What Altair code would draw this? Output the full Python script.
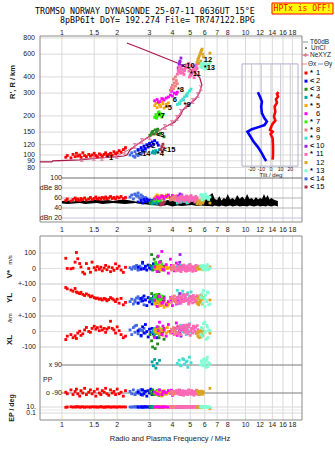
import altair as alt
import pandas as pd

# ---------------- axis ticks / labels ----------------
FREQ_TICKS = [1, 1.5, 2, 3, 4, 5, 6, 7, 8, 10, 12, 14, 16, 18]
FREQ_LABELS = ["1", "1.5", "2", "3", "4", "5", "6", "7", "8", "10", "12", "14", "16", "18"]
HEIGHT_TICKS = [800, 600, 400, 300, 200, 150, 120, 100, 90, 80]
DBE_TICKS = [100, 80, 60, 40, 20]
DBE_LABELS = ["100", "dBe 80", "60", "40", "dBn 20"]
TILT_TICKS = [-20, -10, 0, 10, 20]

ECHO_NAMES = ["*1", "<2", "<3", "*4", "*5", "6", "*7", "*8", "*9", "<10", "*11", "12", "*13", "<14", "<15"]
ECHO_PREFIX = ["*", "<", "<", "*", "*", "", "*", "*", "*", "<", "*", "", "*", "<", "<"]
ECHO_NUMBER = ["1", "2", "3", "4", "5", "6", "7", "8", "9", "10", "11", "12", "13", "14", "15"]
ECHO_COLORS = ["#ff0000", "#0000ff", "#1e8c1e", "#00a3a3", "#ffa500", "#ff00ff", "#33ee00", "#f08080",
               "#40e0d0", "#9a20f0", "#ff69b4", "#daa520", "#80ffd4", "#4169e1", "#b03050"]
# label anchor (frequency MHz, height km) for each echo tag
LABEL_F = [1.74, 2.9, 3.25, 3.29, 3.63, 4.02, 3.33, 4.23, 4.6, 4.5, 4.97, 5.92, 5.92, 2.59, 3.54]
LABEL_H = [94, 118, 143, 102, 230, 265, 200, 320, 243, 482, 420, 541, 469, 102, 109]

# ---------------- echo series: freq, height, amplitude, V*, YL, XL, PP, EP ----------------
E1_F = [1.05, 1.07, 1.12, 1.15, 1.18, 1.2, 1.22, 1.25, 1.27, 1.3, 1.33, 1.36, 1.4, 1.43, 1.46, 1.5, 1.53,
        1.56, 1.6, 1.63, 1.66, 1.7, 1.73, 1.76, 1.8, 1.84, 1.88, 1.92, 1.96, 2.0, 2.05, 2.1, 2.16, 2.22]
E1_H = [96, 99, 95, 101, 97, 103, 98, 100, 96, 104, 99, 97, 101, 98, 100, 103, 99, 97, 102, 100, 98, 101,
        104, 99, 101, 103, 100, 106, 102, 104, 108, 105, 110, 114]
E1_A = [55, 58, 54, 57, 60, 56, 58, 55, 59, 57, 60, 56, 58, 61, 57, 59, 62, 58, 60, 57, 61, 59, 62, 58, 60,
        63, 59, 61, 58, 62, 60, 63, 59, 61]
E1_V = [66, 0, -2, 2, 41, 103, 63, 32, 10, -24, -35, 32, 0, -24, 41, 5, -10, 12, -5, 8, -15, 3, 20, -8, 10,
        -20, 5, -12, 30, 0, 15, -10, -25, 8]
E1_YL = [78, 70, 62, 55, 72, 50, 45, 40, 48, 35, 28, 38, 30, 20, 25, 15, 10, 12, 5, 8, 0, 10, 5, -5, 3, 15,
         8, 0, -10, 5, -20, 10, -30, -15]
E1_XL = [-52, -30, -20, -40, -28, -45, -10, 2, -25, -15, 10, 26, 0, -5, 20, 34, 15, 25, 5, 30, 10, 20, -5,
         15, 25, 66, 20, 10, -10, 30, 5, -20, -40, -30]
E1_PP = [-85, -95, -70, -100, -80, -65, -95, -110, -75, -90, -60, -100, -85, -70, -95, -80, -110, -65, -90,
         -100, -75, -85, -60, -95, -105, -70, -90, -80, -100, -65, -95, -85, -110, -75]
E1_EP = [8, 10, 12, 9, 11, 10, 13, 9, 10, 12, 8, 11, 10, 9, 12, 10, 11, 9, 10, 13, 10, 8, 11, 10, 12, 9, 10,
         11, 10, 9, 12, 10, 11, 10]

E2_F = [2.6, 2.7, 2.75, 2.8, 2.85, 2.9, 2.95, 3.0, 3.05, 3.1, 3.15, 3.2, 3.3, 3.35]
E2_H = [110, 114, 108, 117, 112, 120, 115, 123, 118, 126, 121, 129, 124, 119]
E2_A = [52, 55, 50, 57, 53, 58, 54, 56, 51, 55, 53, 57, 52, 54]
E2_V = [8, -5, 40, 0, 15, -10, 22, 5, -3, 12, 30, 0, -8, 6]
E2_YL = [-20, 10, -5, 25, 0, -35, 15, -12, 5, -25, 20, -8, 10, 0]
E2_XL = [5, -25, 30, -10, 45, 0, -35, 15, -5, 20, -15, 10, -40, 25]
E2_PP = [-85, -100, -70, -95, -80, -110, -75, -90, -65, -100, -85, -95, -78, -88]
E2_EP = [10, 11, 9, 10, 12, 10, 11, 9, 10, 10, 12, 9, 10, 11]

E3_F = [3.02, 3.08, 3.12, 3.18, 3.22, 3.28, 3.32, 3.38, 3.45, 3.6]
E3_H = [142, 148, 152, 145, 156, 150, 158, 144, 147, 138]
E3_A = [50, 54, 52, 56, 51, 55, 53, 57, 50, 52]
E3_V = [20, 90, -10, 60, 35, 5, 75, -20, 45, 10]
E3_YL = [10, 40, -5, 25, 30, 0, 15, 35, -10, 20]
E3_XL = [-20, -60, -100, -30, -110, -10, -80, -40, 0, -50]
E3_PP = [-80, -95, -70, -100, -85, -90, -75, -105, -88, -92]
E3_EP = [10, 11, 9, 10, 12, 10, 9, 11, 10, 10]

E4_F = [3.1, 3.15, 3.2, 3.25, 3.3, 3.4]
E4_H = [104, 107, 103, 108, 105, 110]
E4_A = [48, 52, 50, 55, 49, 53]
E4_V = [5, 15, -5, 25, 10, 0]
E4_YL = [10, -10, 20, 0, -15, 5]
E4_XL = [-5, 10, -15, 20, 0, -20]
E4_PP = [110, 85, 125, 70, 100, 120]
E4_EP = [10, 11, 10, 9, 10, 12]

E5_F = [3.2, 3.25, 3.3, 3.35, 3.4, 3.45, 3.5, 3.55, 3.6, 3.7, 3.75, 3.8]
E5_H = [240, 250, 232, 255, 244, 236, 258, 248, 230, 246, 238, 252]
E5_A = [60, 63, 66, 61, 64, 62, 65, 60, 63, 66, 61, 64]
E5_V = [5, -5, 10, 0, 15, -10, 8, 2, -8, 12, 0, 5]
E5_YL = [-20, -30, -10, -40, -25, -35, -15, -30, -45, -20, -38, -28]
E5_XL = [10, -5, 20, 0, -15, 15, 5, -25, 10, -10, 25, 0]
E5_PP = [-90, -85, -100, -80, -95, -88, -110, -92, -75, -98, -85, -90]
E5_EP = [10, 8, 11, 10, 9, 10, 12, 10, 8, 11, 10, 9]

E6_F = [3.2, 3.3, 3.4, 3.5, 3.6, 3.7, 3.8, 3.9, 4.0, 4.1, 4.2, 4.25, 3.35, 3.55, 3.95]
E6_H = [262, 268, 258, 272, 265, 275, 280, 290, 285, 300, 295, 305, 255, 270, 310]
E6_A = [58, 62, 60, 64, 59, 63, 66, 61, 65, 60, 62, 64, 59, 63, 61]
E6_V = [10, -20, 40, 110, -10, 25, -30, 60, 5, -15, 35, 0, 80, -5, 20]
E6_YL = [0, -40, 20, -20, 10, -30, -10, 15, -35, 5, -25, -5, 25, -15, 0]
E6_XL = [-40, 30, 60, -20, 10, -30, 45, 0, -10, 20, 55, -25, 5, 35, -5]
E6_PP = [-85, -95, -70, -100, -80, -88, -75, -92, -105, -82, -90, -78, -98, -86, -72]
E6_EP = [10, 11, 9, 10, 12, 10, 9, 11, 10, 10, 8, 10, 11, 9, 10]

E7_F = [3.2, 3.25, 3.3, 3.35, 3.4, 3.45, 3.5, 3.55, 3.38, 3.28]
E7_H = [195, 205, 198, 212, 202, 208, 196, 204, 215, 192]
E7_A = [55, 58, 60, 56, 62, 57, 59, 61, 55, 58]
E7_V = [10, 40, -5, 25, 0, 15, 30, -10, 5, 20]
E7_YL = [20, 5, 30, -10, 15, 0, 25, 10, -5, 35]
E7_XL = [0, 20, -10, 30, 10, -20, 15, 5, 25, -5]
E7_PP = [-85, -95, -78, -100, -90, -82, -105, -88, -70, -95]
E7_EP = [10, 11, 9, 10, 12, 10, 10, 11, 9, 10]

E8_F = [3.9, 3.95, 4.0, 4.05, 4.1, 4.15, 4.2, 4.25, 4.05, 4.15]
E8_H = [315, 330, 345, 325, 360, 340, 375, 355, 385, 400]
E8_A = [56, 60, 58, 62, 57, 64, 59, 61, 57, 60]
E8_V = [5, -10, 15, 0, -5, 10, -15, 8, 20, -3]
E8_YL = [10, -15, 20, -5, 25, 0, -20, 15, 5, -10]
E8_XL = [-10, 15, 0, 25, -20, 10, -5, 30, 5, -15]
E8_PP = [-90, -80, -100, -85, -95, -88, -75, -92, -98, -84]
E8_EP = [10, 11, 10, 9, 10, 12, 10, 11, 10, 9]

E9_F = [4.25, 4.35, 4.45, 4.55, 4.65, 4.75, 4.85, 4.95, 5.05, 4.4, 4.6, 4.8]
E9_H = [245, 252, 262, 270, 280, 290, 300, 312, 322, 248, 265, 285]
E9_A = [50, 54, 52, 57, 53, 55, 51, 56, 58, 52, 54, 50]
E9_V = [10, 0, 20, 5, 15, -5, 12, 25, 0, 8, 18, 3]
E9_YL = [60, 40, 20, 55, 30, 10, 45, 25, 50, 15, 35, 5]
E9_XL = [20, -10, 40, 0, 30, -20, 10, 50, -5, 25, 15, 35]
E9_PP = [100, 120, 85, 130, 95, 110, 75, 140, 105, 90, 125, 115]
E9_EP = [10, 11, 10, 9, 12, 10, 11, 10, 9, 10, 11, 10]

E10_F = [4.3, 4.35, 4.4, 4.45, 4.5, 4.38]
E10_H = [470, 500, 530, 560, 490, 520]
E10_A = [60, 64, 68, 62, 66, 63]
E10_V = [20, -10, 90, 10, 0, 40]
E10_YL = [15, -20, 40, 0, 10, -5]
E10_XL = [30, -10, 10, -30, 20, 0]
E10_PP = [-85, -95, -80, -100, -90, -75]
E10_EP = [10, 11, 10, 9, 10, 11]

E11_F = [4.25, 4.3, 4.35, 4.4, 4.45, 4.5, 4.55, 4.6, 4.65, 4.7, 4.75, 4.8, 4.85, 4.9, 4.95, 5.0, 5.05, 5.1,
         5.15, 5.2, 5.25, 5.3, 5.35, 5.4, 5.45, 5.5, 4.32, 4.48, 4.62, 4.78, 4.92, 5.08, 5.22, 5.38, 4.42, 4.68]
E11_H = [420, 450, 470, 480, 440, 460, 430, 455, 445, 470, 490, 480, 500, 510, 400, 415, 410, 425, 435, 460,
         395, 485, 450, 475, 465, 505, 438, 462, 418, 472, 444, 488, 452, 496, 428, 458]
E11_A = [55, 60, 52, 62, 58, 64, 56, 61, 53, 59, 63, 57, 60, 54, 62, 58, 65, 55, 61, 57, 59, 52, 63, 56, 60,
         54, 58, 62, 57, 64, 53, 60, 56, 61, 59, 55]
E11_V = [0, 15, -10, 10, -20, 5, 20, -5, 12, -15, 8, -8, 18, 2, -12, 25, -3, 10, -18, 6, -6, 14, -14, 4, 16,
         -2, 9, -9, 22, -16, 3, 11, -7, 19, -1, 7]
E11_YL = [10, -15, 25, 0, -20, 15, 30, -10, 5, 20, -5, 35, 0, -25, 12, -8, 22, 3, -18, 28, 8, -12, 18, -3, 26,
          -22, 14, -6, 32, 2, -16, 20, 6, -10, 16, -2]
E11_XL = [20, -10, 35, 5, -20, 30, 10, 40, -5, 25, 0, 15, -15, 30, 45, -25, 5, 20, -10, 35, 15, 0, 28, -8, 38,
          12, -18, 22, 8, 42, -2, 18, 32, -12, 26, 4]
E11_PP = [-80, -95, -70, -100, -85, -90, -75, -105, -88, -78, -95, -82, -100, -70, -92, -86, -98, -74, -90, -84,
          -104, -80, -94, -72, -88, -99, -76, -91, -83, -97, -73, -87, -101, -79, -93, -81]
E11_EP = [10, 11, 9, 10, 12, 10, 9, 11, 10, 12, 10, 11, 9, 10, 10, 12, 10, 9, 11, 10, 10, 11, 10, 9, 12, 10,
          11, 10, 9, 10, 12, 10, 11, 10, 9, 10]

E12_F = [5.45, 5.5, 5.55, 5.6, 5.65, 5.7, 5.75, 5.8, 5.85, 5.9, 5.6, 5.7, 6.4]
E12_H = [520, 545, 560, 580, 600, 620, 640, 655, 600, 570, 510, 530, 610]
E12_A = [48, 52, 50, 55, 49, 53, 51, 56, 50, 54, 52, 48, 50]
E12_V = [5, -5, 10, 0, 15, -3, 8, 2, -8, 12, 0, 5, 10]
E12_YL = [-20, 10, -30, 20, 0, -10, 25, -25, 5, 15, -15, 30, 0]
E12_XL = [-10, -30, 0, -40, -20, 5, -35, -15, -25, 0, -5, -20, -10]
E12_PP = [-75, -85, -95, -80, -100, -90, -78, -88, -98, -82, -92, -86, -60]
E12_EP = [10, 8, 9, 10, 11, 10, 9, 10, 8, 10, 11, 10, 3]

E13_F = [5.8, 5.85, 5.9, 5.95, 6.0, 6.05, 6.1, 6.2, 6.3, 5.7, 6.15, 6.25, 5.75, 6.4]
E13_H = [470, 500, 485, 520, 460, 510, 490, 475, 500, 480, 465, 495, 505, 515]
E13_A = [56, 62, 66, 58, 64, 68, 60, 63, 57, 65, 61, 59, 67, 62]
E13_V = [10, -5, 20, 0, 15, -10, 5, 25, -3, 12, 8, -8, 18, 2]
E13_YL = [40, -20, 60, 10, -40, 30, 0, 50, -30, 20, -10, 45, 15, -25]
E13_XL = [-30, 20, 50, -10, 60, 0, -50, 30, 10, -20, 40, -40, 25, 5]
E13_PP = [100, 120, 85, 130, 95, 110, 75, 140, 105, 90, 125, 80, 115, 98]
E13_EP = [10, 11, 10, 9, 12, 10, 11, 10, 9, 10, 11, 10, 12, 10]

E14_F = [2.35, 2.4, 2.45, 2.5, 2.55, 2.6, 2.65, 2.7, 2.75, 2.8, 2.85, 2.5, 2.6, 2.7]
E14_H = [100, 104, 98, 106, 101, 108, 103, 110, 105, 112, 107, 96, 99, 101]
E14_A = [62, 66, 58, 68, 64, 70, 60, 66, 63, 58, 61, 67, 64, 59]
E14_V = [5, -5, 10, 0, 20, -8, 15, 2, 30, -3, 8, 12, -10, 4]
E14_YL = [-10, 5, -25, 0, 12, -18, 8, -5, 15, -30, 2, -12, 20, -8]
E14_XL = [10, -20, 25, -5, 40, 0, 15, -30, 5, 20, -10, 35, -15, 8]
E14_PP = [-80, -95, -70, -100, -88, -75, -92, -68, -105, -85, -78, -98, -90, -72]
E14_EP = [10, 9, 11, 10, 12, 10, 9, 10, 11, 10, 10, 12, 9, 10]

E15_F = [3.45, 3.5, 3.55, 3.6, 3.52]
E15_H = [110, 116, 121, 113, 107]
E15_A = [46, 50, 48, 52, 47]
E15_V = [0, 10, -5, 15, 5]
E15_YL = [-10, 5, 15, -5, 0]
E15_XL = [10, -5, 0, 20, -10]
E15_PP = [-90, -80, -100, -85, -95]
E15_EP = [10, 10, 11, 9, 10]

# ---------------- noise amplitude trace (dBe panel) ----------------
NOISE_F = [1.0, 1.08, 1.16, 1.25, 1.34, 1.44, 1.55, 1.66, 1.78, 1.9, 2.05, 2.2, 2.36, 2.52, 2.7, 2.9,
           3.1, 3.3, 3.5, 3.75, 4.0, 4.25, 4.5, 4.8, 5.1, 5.4, 5.75, 6.1, 6.4, 6.6, 6.8, 7.0, 7.2, 7.4,
           7.6, 7.8, 8.0, 8.25, 8.5, 8.75, 9.0, 9.3, 9.6, 9.9, 10.2, 10.5, 10.8, 11.1, 11.4, 11.7, 12.0,
           12.3, 12.6, 12.9, 13.2, 13.5, 13.8, 14.1, 14.4, 14.7, 15.0]
NOISE_HI = [54, 55, 53, 56, 54, 55, 57, 55, 56, 54, 56, 57, 55, 53, 52, 54,
            52, 54, 50, 56, 54, 52, 54, 52, 55, 53, 56, 58,
            66, 70, 58, 56, 64, 55, 60, 58, 68, 57, 60, 56, 66, 58, 63, 57, 68, 58, 60, 56, 62, 57,
            60, 58, 68, 60, 66, 57, 60, 58, 56, 55, 54]
NOISE_LO = [49, 48, 49, 50, 48, 49, 50, 48, 49, 50, 49, 48, 49, 50, 48, 47,
            46, 45, 44, 46, 43, 45, 44, 45, 46, 44, 45, 44,
            44, 43, 45, 44, 43, 45, 44, 43, 44, 45, 43, 44, 45, 43, 44, 44, 43, 45, 44, 43, 44, 45,
            43, 44, 44, 43, 45, 44, 43, 44, 45, 44, 43]

# ---------------- model profile lines (main panel) ----------------
PROF_F = [0.76, 0.88, 0.893, 1.25, 1.61, 1.94, 2.18, 2.26, 2.35, 2.5, 2.9, 3.29, 3.64, 4.12, 4.39, 4.56,
          4.97, 5.36, 5.64, 5.78, 5.64, 5.36, 4.97, 4.39, 3.42, 2.66, 2.26]
PROF_H = [88.3, 88.3, 89.9, 91.5, 94.8, 96.5, 98.2, 100, 109.3, 117.3, 135.3, 150.4, 164.4, 179.7, 200, 222,
          247.5, 270.4, 306, 346.7, 392.8, 429.3, 461, 503.8, 580.7, 669.4, 731.6]
NE_F = [1.285, 1.493, 1.651, 1.993, 2.203, 2.497, 2.726, 3.013, 3.29, 3.637, 3.97, 4.23, 4.44, 4.73, 5.16,
        5.5, 5.71]
NE_H = [93.1, 94.8, 94.8, 98.2, 105.5, 117.3, 128.2, 137.6, 150.4, 164.4, 176.4, 192.9, 214.7, 239.2, 260.8,
        290, 328.8]

# ---------------- tilt inset ----------------
TILTY_H = [305, 290, 279, 258, 236, 210, 192, 181, 170, 164, 158, 151, 140, 127, 115, 103, 94, 90]
TILTY_T = [-13.5, -12.2, -11.1, -9.4, -10.1, -9.4, -6.7, -4.2, -6.7, -12.9, -19.8, -24.4, -21.6, -18.1,
           -13.5, -9.4, -6.7, -4.9]
TILTX_H = [305, 296, 282, 269, 253, 236, 216, 198, 184, 174, 165, 156, 151, 145, 135, 116, 100, 92]
TILTX_T = [7.9, 6.2, 7.3, 5.2, 6.2, 3.8, 4.5, 3.1, 4.5, 1.7, 0.3, -1.0, 1.7, -0.4, 1.7, 2.1, 2.1, 1.7]

TITLE_1 = "TROMSO NORWAY   DYNASONDE 25-07-11 0636UT 15°E"
TITLE_2 = "8pBP6It DoY= 192.274 File= TR747122.BPG"

# ---------------- scales ----------------
PW, PH = 262, 384
FX = alt.Scale(type="log", domain=[0.76, 20.3], range=[0, PW], nice=False)
UPY = alt.Scale(domain=[0, 1], range=[186, 0], nice=False, zero=False)
LOWY = alt.Scale(domain=[0, 1], range=[384, 200], nice=False, zero=False)
HY = alt.Scale(type="log", domain=[66.4, 828], range=[142, 0], nice=False)
DBY = alt.Scale(domain=[12, 100], range=[186, 142], nice=False, zero=False)
VY = alt.Scale(domain=[-100, 100], range=[248, 217], nice=False, zero=False)
YLY = alt.Scale(domain=[-100, 100], range=[280, 248], nice=False, zero=False)
XLY = alt.Scale(domain=[-100, 100], range=[311, 280], nice=False, zero=False)
PPY = alt.Scale(domain=[-90, 90], range=[357, 329], nice=False, zero=False)
EPY = alt.Scale(type="log", domain=[0.1, 10], range=[377, 371], nice=False)
TX = alt.Scale(domain=[-30, 28], range=[202, 258], nice=False, zero=False)

GRID = "#dadada"
FRAME = "#8a8a8a"
TXT = "#202020"
FONT = "Liberation Sans"
MONO = "DejaVu Sans Mono"


def X(field, scale=FX):
    return alt.X(field, type="quantitative", scale=scale, axis=None)


def Y(field, scale):
    return alt.Y(field, type="quantitative", scale=scale, axis=None)


def series_rows(name, F, H, A, V, YL, XL, PP, EP):
    n = len(F)
    for s in (H, A, V, YL, XL, PP, EP):
        assert len(s) == n, name
    return [dict(echo=name, f=F[i], h=H[i], a=A[i], v=V[i], yl=YL[i], xl=XL[i], pp=PP[i], ep=EP[i])
            for i in range(n)]


SERIES = [
    ("*1", E1_F, E1_H, E1_A, E1_V, E1_YL, E1_XL, E1_PP, E1_EP),
    ("<14", E14_F, E14_H, E14_A, E14_V, E14_YL, E14_XL, E14_PP, E14_EP),
    ("<2", E2_F, E2_H, E2_A, E2_V, E2_YL, E2_XL, E2_PP, E2_EP),
    ("<3", E3_F, E3_H, E3_A, E3_V, E3_YL, E3_XL, E3_PP, E3_EP),
    ("*4", E4_F, E4_H, E4_A, E4_V, E4_YL, E4_XL, E4_PP, E4_EP),
    ("<15", E15_F, E15_H, E15_A, E15_V, E15_YL, E15_XL, E15_PP, E15_EP),
    ("*7", E7_F, E7_H, E7_A, E7_V, E7_YL, E7_XL, E7_PP, E7_EP),
    ("*5", E5_F, E5_H, E5_A, E5_V, E5_YL, E5_XL, E5_PP, E5_EP),
    ("6", E6_F, E6_H, E6_A, E6_V, E6_YL, E6_XL, E6_PP, E6_EP),
    ("*8", E8_F, E8_H, E8_A, E8_V, E8_YL, E8_XL, E8_PP, E8_EP),
    ("*9", E9_F, E9_H, E9_A, E9_V, E9_YL, E9_XL, E9_PP, E9_EP),
    ("<10", E10_F, E10_H, E10_A, E10_V, E10_YL, E10_XL, E10_PP, E10_EP),
    ("*11", E11_F, E11_H, E11_A, E11_V, E11_YL, E11_XL, E11_PP, E11_EP),
    ("12", E12_F, E12_H, E12_A, E12_V, E12_YL, E12_XL, E12_PP, E12_EP),
    ("*13", E13_F, E13_H, E13_A, E13_V, E13_YL, E13_XL, E13_PP, E13_EP),
]
rows = []
for s in SERIES:
    rows += series_rows(*s)
echo_df = pd.DataFrame(rows)
COLOR = alt.Color("echo:N", scale=alt.Scale(domain=ECHO_NAMES, range=ECHO_COLORS), legend=None)

layers = []

# ---------- grids & frames ----------
vgrid = pd.DataFrame({"f": FREQ_TICKS, "lo": 0.0, "hi": 1.0})
layers.append(alt.Chart(vgrid).mark_rule(color=GRID).encode(x=X("f"), y=Y("lo", UPY), y2="hi"))
layers.append(alt.Chart(vgrid).mark_rule(color=GRID).encode(x=X("f"), y=Y("lo", LOWY), y2="hi"))

hgrid = pd.DataFrame({"h": HEIGHT_TICKS, "f0": 0.76, "f1": 20.3})
layers.append(alt.Chart(hgrid).mark_rule(color=GRID).encode(x=X("f0"), x2="f1", y=Y("h", HY)))

dbe_lines = pd.DataFrame({"db": DBE_TICKS, "f0": 1.0, "f1": 20.3,
                          "c": ["#6e6e6e", "#cfcfcf", "#b4b4b4", "#b4b4b4", "#c4c4e6"]})
layers.append(alt.Chart(dbe_lines).mark_rule().encode(
    x=X("f0"), x2="f1", y=Y("db", DBY), color=alt.Color("c:N", scale=None)))

for sc, vals, cols in [
    (VY, [100, 0, -100], ["#e0e0e0", "#e0e0e0", "#c8c8c8"]),
    (YLY, [0, -100], ["#e0e0e0", "#c8c8c8"]),
    (XLY, [0, -100], ["#e0e0e0", "#d0d0d0"]),
    (EPY, [10, 1, 0.1], ["#d8d8d8", "#e6e6e6", "#d8d8d8"]),
]:
    d = pd.DataFrame({"y": vals, "f0": 0.76, "f1": 20.3, "c": cols})
    layers.append(alt.Chart(d).mark_rule().encode(
        x=X("f0"), x2="f1", y=Y("y", sc), color=alt.Color("c:N", scale=None)))
pp_lines = pd.DataFrame({"y": [90, -90], "f0": 1.0, "f1": 20.3})
layers.append(alt.Chart(pp_lines).mark_rule(color="#7a7a7a").encode(x=X("f0"), x2="f1", y=Y("y", PPY)))

frames = pd.DataFrame({"f0": [0.76], "f1": [20.3], "lo": [0.0], "hi": [1.0]})
layers.append(alt.Chart(frames).mark_rect(fillOpacity=0, stroke=FRAME, strokeWidth=1).encode(
    x=X("f0"), x2="f1", y=Y("lo", UPY), y2="hi"))
layers.append(alt.Chart(frames).mark_rect(fillOpacity=0, stroke=FRAME, strokeWidth=1).encode(
    x=X("f0"), x2="f1", y=Y("lo", LOWY), y2="hi"))

# ---------- tilt inset ----------
inset = pd.DataFrame({"t0": [-30], "t1": [28], "h0": [82], "h1": [504]})
layers.append(alt.Chart(inset).mark_rect(fillOpacity=0, stroke="#b0b0cc", strokeWidth=1).encode(
    x=X("t0", TX), x2="t1", y=Y("h0", HY), y2="h1"))
tg = pd.DataFrame({"t": TILT_TICKS, "h0": 82, "h1": 504})
layers.append(alt.Chart(tg).mark_rule(color="#c8c8d8").encode(x=X("t", TX), y=Y("h0", HY), y2="h1"))
ty = pd.DataFrame({"t": TILTY_T, "h": TILTY_H, "i": range(len(TILTY_H))})
tx = pd.DataFrame({"t": TILTX_T, "h": TILTX_H, "i": range(len(TILTX_H))})
layers.append(alt.Chart(ty).mark_line(color="#0000ff", strokeWidth=2.6).encode(
    x=X("t", TX), y=Y("h", HY), order="i:Q"))
layers.append(alt.Chart(tx).mark_line(color="#ff0000", strokeWidth=2.6).encode(
    x=X("t", TX), y=Y("h", HY), order="i:Q"))
tl = pd.DataFrame({"t": TILT_TICKS, "lab": [str(v) for v in TILT_TICKS]})
layers.append(alt.Chart(tl).mark_text(fontSize=5.2, font=FONT, color=TXT, baseline="middle").encode(
    x=X("t", TX), y=alt.value(133), text="lab:N"))
layers.append(alt.Chart(pd.DataFrame({"t": [0], "lab": ["Tilt / deg"]})).mark_text(
    fontSize=6, font=FONT, color=TXT, baseline="middle").encode(x=X("t", TX), y=alt.value(139), text="lab:N"))

# ---------- dBe noise trace ----------
noise = pd.DataFrame({"f": NOISE_F, "hi": NOISE_HI, "lo": NOISE_LO})
layers.append(alt.Chart(noise).mark_area(color="black", opacity=1).encode(
    x=X("f"), y=Y("hi", DBY), y2="lo"))

# ---------- profile lines ----------
prof = pd.DataFrame({"f": PROF_F, "h": PROF_H, "i": range(len(PROF_F))})
layers.append(alt.Chart(prof).mark_line(color="#a81848", strokeWidth=1.2).encode(
    x=X("f"), y=Y("h", HY), order="i:Q"))
ne = pd.DataFrame({"f": NE_F, "h": NE_H, "i": range(len(NE_F))})
layers.append(alt.Chart(ne).mark_line(color="#e0709a", strokeWidth=1).encode(
    x=X("f"), y=Y("h", HY), order="i:Q"))
IBEAM = "M-1,-1.3L1,-1.3M0,-1.3L0,1.3M-1,1.3L1,1.3"
layers.append(alt.Chart(ne).mark_point(shape=IBEAM, size=12, color="#e0709a", strokeWidth=1, filled=False,
                                       opacity=1).encode(x=X("f"), y=Y("h", HY)))

# ---------- echo points ----------
for field, sc in [("h", HY), ("a", DBY), ("v", VY), ("yl", YLY), ("xl", XLY), ("pp", PPY), ("ep", EPY)]:
    layers.append(alt.Chart(echo_df).mark_square(size=8, opacity=1).encode(
        x=X("f"), y=Y(field, sc), color=COLOR))

# echo tags
tags = pd.DataFrame({"name": ECHO_NAMES, "f": LABEL_F, "h": LABEL_H})
layers.append(alt.Chart(tags).mark_text(align="left", baseline="middle", fontSize=7.5, font=FONT,
                                        fontWeight="bold", color="black").encode(
    x=X("f"), y=Y("h", HY), text="name:N"))

# ---------- tick labels ----------
hl = pd.DataFrame({"h": HEIGHT_TICKS, "lab": [str(v) for v in HEIGHT_TICKS]})
layers.append(alt.Chart(hl).mark_text(align="right", baseline="middle", fontSize=7, font=FONT, color=TXT).encode(
    x=alt.value(-5), y=Y("h", HY), text="lab:N"))
dl = pd.DataFrame({"db": DBE_TICKS, "lab": DBE_LABELS})
layers.append(alt.Chart(dl).mark_text(align="right", baseline="middle", fontSize=7, font=FONT, color=TXT).encode(
    x=alt.value(22), y=Y("db", DBY), text="lab:N"))
for sc, vals, labs in [
    (VY, [100, 0, -100], ["100", "0", "+-100"]),
    (YLY, [0, -100], ["0", "+-100"]),
    (XLY, [0, -100], ["0", "-100"]),
    (EPY, [10, 0.1], ["10.", "0.1"]),
]:
    d = pd.DataFrame({"y": vals, "lab": labs})
    layers.append(alt.Chart(d).mark_text(align="right", baseline="middle", fontSize=7, font=FONT,
                                         color=TXT).encode(x=alt.value(-4), y=Y("y", sc), text="lab:N"))
ppl = pd.DataFrame({"y": [90, -90], "lab": ["x 90", "o -90"]})
layers.append(alt.Chart(ppl).mark_text(align="right", baseline="middle", fontSize=7, font=FONT,
                                       color=TXT).encode(x=alt.value(22), y=Y("y", PPY), text="lab:N"))

fl = pd.DataFrame({"f": FREQ_TICKS, "lab": FREQ_LABELS})
for ypix in [-3, 194, 389]:
    layers.append(alt.Chart(fl).mark_text(baseline="middle", fontSize=7, font=FONT, color=TXT).encode(
        x=X("f"), y=alt.value(ypix), text="lab:N"))


def label(text, x, y, size=7.5, angle=0, weight="normal", align="center", font=FONT, color=TXT):
    kw = dict(fontSize=size, font=font, color=color, fontWeight=weight, align=align, baseline="middle")
    if angle:
        kw["angle"] = angle
    return alt.Chart(pd.DataFrame({"t": [text]})).mark_text(**kw).encode(
        x=alt.value(x), y=alt.value(y), text="t:N")


layers += [
    label("R', R / km", -27, 46, size=7.5, angle=270, weight="bold"),
    label("V*", -30, 238, size=8, angle=270, weight="bold"),
    label("m/s", -30, 224, size=6, angle=270),
    label("YL", -30, 262, size=8, angle=270, weight="bold"),
    label("/km", -30, 282, size=6, angle=270),
    label("XL", -30, 304, size=8, angle=270, weight="bold"),
    label("EP / deg", -28, 372, size=7, angle=270, weight="bold"),
    label("PP", 3, 344, size=7, align="left"),
    label("Radio and Plasma Frequency / MHz", 130, 403, size=7.5),
    label(TITLE_1, -5, -24, size=8.3, align="left", font=MONO, color="black"),
    label(TITLE_2, 20, -15, size=8.3, align="left", font=MONO, color="black"),
]

# HPTx box
layers.append(alt.Chart(pd.DataFrame({"t": [0]})).mark_rect(fill="#ffff00", stroke="#ff0000", strokeWidth=1).encode(
    x=alt.value(232), x2=alt.value(293), y=alt.value(-33), y2=alt.value(-22)))
layers.append(label("HPTx is OFF!", 262.5, -27.5, size=8, font=MONO, color="#ff0000"))

# ---------- legend ----------
leg = pd.DataFrame({"echo": ECHO_NAMES, "pre": ECHO_PREFIX, "num": ECHO_NUMBER})
LEGY = alt.Y("echo:N", scale=alt.Scale(type="point", domain=ECHO_NAMES, range=[37, 151], padding=0), axis=None)
layers.append(alt.Chart(leg).mark_square(size=9, opacity=1).encode(x=alt.value(266), y=LEGY, color=COLOR))
layers.append(alt.Chart(leg).mark_text(align="left", baseline="middle", fontSize=7.5, font=FONT,
                                       fontWeight="bold", color="black").encode(x=alt.value(270), y=LEGY, text="pre:N"))
layers.append(alt.Chart(leg).mark_text(align="left", baseline="middle", fontSize=7.5, font=FONT,
                                       color="black").encode(x=alt.value(276), y=LEGY, text="num:N"))

one = pd.DataFrame({"t": [0]})
layers += [
    alt.Chart(one).mark_rule(color="#a0a0a0", strokeWidth=1.2).encode(
        x=alt.value(263), x2=alt.value(268), y=alt.value(6)),
    label("T60dB", 270, 6, size=6.5, align="left"),
    alt.Chart(one).mark_circle(size=3, color="black", opacity=1).encode(x=alt.value(266), y=alt.value(12)),
    label("UnCl", 271, 12, size=6.5, align="left"),
    alt.Chart(one).mark_rule(color="#e0709a").encode(x=alt.value(262), x2=alt.value(269), y=alt.value(19)),
    alt.Chart(one).mark_point(shape="cross", size=14, color="#e0709a", filled=True, opacity=1).encode(
        x=alt.value(265.5), y=alt.value(19)),
    label("NeXYZ", 270, 19, size=6.5, align="left"),
    alt.Chart(one).mark_rule(color="#ff8080").encode(x=alt.value(261), x2=alt.value(267), y=alt.value(28)),
    label("Θx", 268, 28, size=6.5, align="left"),
    alt.Chart(one).mark_rule(color="#8080ff").encode(x=alt.value(278), x2=alt.value(283), y=alt.value(28)),
    label("Θy", 284, 28, size=6.5, align="left"),
]

chart = alt.layer(*layers).resolve_scale(x="independent", y="independent").properties(
    width=PW, height=PH,
    autosize=alt.AutoSizeParams(type="none"),
    padding={"left": 40, "top": 36, "right": 33, "bottom": 31},
).configure_view(stroke=None)

chart.save("out.html", embed_options={"renderer": "svg", "actions": False})
